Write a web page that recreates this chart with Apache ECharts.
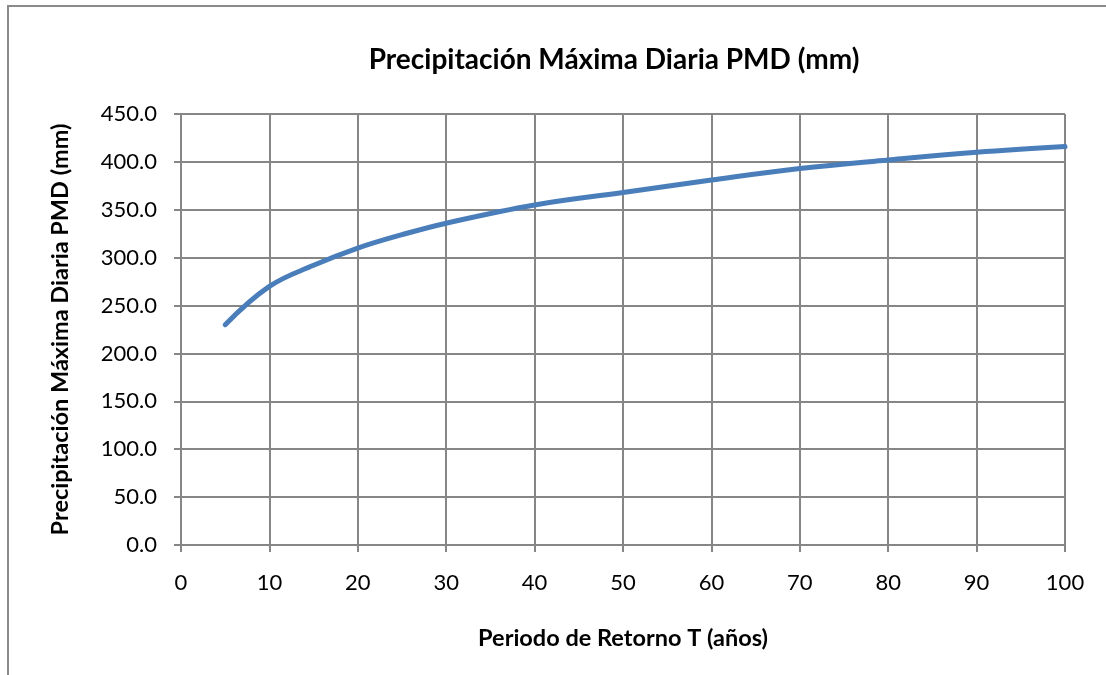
<!DOCTYPE html>
<html>
<head>
<meta charset="utf-8">
<script src="https://cdn.jsdelivr.net/npm/echarts@6/dist/echarts.min.js"></script>
<style>html,body{margin:0;padding:0;background:#fff}#c{width:1106px;height:675px}</style>
</head>
<body>
<div id="c"></div>
<script>
const returnPeriods = [5, 10, 15, 20, 25, 30, 40, 50, 60, 70, 80, 90, 100];
const pmdValues = [230, 270, 292, 310, 324, 336, 355, 368, 381, 393, 402, 410, 416];
const titleText = 'Precipitación Máxima Diaria PMD (mm)';
const xName = 'Periodo de Retorno T (años)';
const yName = 'Precipitación Máxima Diaria PMD (mm)';

const FONT = 'Lato';
const data = returnPeriods.map((t, i) => [t, pmdValues[i]]);
const chart = echarts.init(document.getElementById('c'), null, {renderer: 'canvas'});
chart.setOption({
  animation: false,
  backgroundColor: '#fff',
  title: {
    text: titleText, top: 41, left: 609, textAlign: 'center',
    textStyle: {fontFamily: FONT, fontWeight: 'bold', fontSize: 28, color: '#000'}
  },
  graphic: [{
    type: 'rect', silent: true,
    shape: {x: 8, y: 6, width: 1120, height: 700},
    style: {fill: 'none', stroke: '#8a8a8a', lineWidth: 2}
  }],
  grid: {left: 181, right: 41, top: 114, bottom: 130},
  xAxis: {
    type: 'value', min: 0, max: 100, interval: 10,
    name: xName, nameLocation: 'middle', nameGap: 81,
    nameTextStyle: {fontFamily: FONT, fontWeight: 'bold', fontSize: 23.5, color: '#000'},
    axisLine: {show: true, lineStyle: {color: '#868686', width: 2}},
    axisTick: {show: true, length: 7, lineStyle: {color: '#868686', width: 2}},
    axisLabel: {fontFamily: FONT, fontSize: 22, color: '#000', margin: 27},
    splitLine: {show: true, lineStyle: {color: '#868686', width: 2}}
  },
  yAxis: {
    type: 'value', min: 0, max: 450, interval: 50,
    name: yName, nameLocation: 'middle', nameGap: 109,
    nameTextStyle: {fontFamily: FONT, fontWeight: 'bold', fontSize: 23.5, color: '#000'},
    axisLine: {show: true, lineStyle: {color: '#868686', width: 2}},
    axisTick: {show: true, length: 7, lineStyle: {color: '#868686', width: 2}},
    axisLabel: {fontFamily: FONT, fontSize: 22, color: '#000', margin: 24,
      formatter: v => v.toFixed(1)},
    splitLine: {show: true, lineStyle: {color: '#868686', width: 2}}
  },
  series: [{
    type: 'line', data: data, smooth: 0.4, showSymbol: false,
    lineStyle: {color: '#4a7ebb', width: 5, cap: 'round'},
    itemStyle: {color: '#4a7ebb'}
  }]
});
</script>
</body>
</html>
